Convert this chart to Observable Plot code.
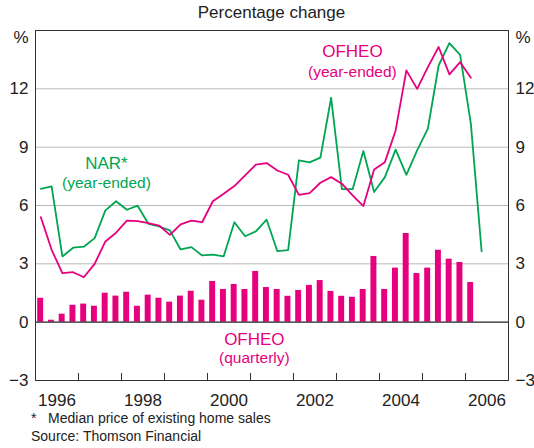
<!DOCTYPE html>
<html><head><meta charset="utf-8">
<script src="https://cdn.jsdelivr.net/npm/d3@7"></script>
<script src="https://cdn.jsdelivr.net/npm/@observablehq/plot@0.6"></script>
<style>
body{margin:0;background:#fff;font-family:"Liberation Sans",Arial,sans-serif;}
#wrap{position:relative;width:534px;height:448px;overflow:hidden;}
#wrap svg{position:absolute;left:0;top:0;}
.title{position:absolute;z-index:2;top:3px;left:0;width:543px;text-align:center;font-size:17px;color:#222;}
.note{position:absolute;z-index:2;left:31px;font-size:14px;color:#222;white-space:pre;}
</style></head><body>
<div id="wrap">
<div class="title">Percentage change</div>
<div class="note" style="top:410px">*   Median price of existing home sales</div>
<div class="note" style="top:428px">Source: Thomson Financial</div>
</div>
<script>
const quarters = [
 "1996 Q1","1996 Q2","1996 Q3","1996 Q4","1997 Q1","1997 Q2","1997 Q3","1997 Q4",
 "1998 Q1","1998 Q2","1998 Q3","1998 Q4","1999 Q1","1999 Q2","1999 Q3","1999 Q4",
 "2000 Q1","2000 Q2","2000 Q3","2000 Q4","2001 Q1","2001 Q2","2001 Q3","2001 Q4",
 "2002 Q1","2002 Q2","2002 Q3","2002 Q4","2003 Q1","2003 Q2","2003 Q3","2003 Q4",
 "2004 Q1","2004 Q2","2004 Q3","2004 Q4","2005 Q1","2005 Q2","2005 Q3","2005 Q4",
 "2006 Q1","2006 Q2"];
const narYearEnded = [6.86,6.98,3.38,3.83,3.88,4.32,5.75,6.22,5.78,5.99,5.06,4.92,4.72,3.74,3.86,3.43,
 3.47,3.38,5.14,4.42,4.67,5.27,3.65,3.70,8.32,8.22,8.46,11.54,6.84,6.84,8.80,6.69,
 7.46,8.87,7.58,8.83,9.95,13.20,14.35,13.75,10.20,3.64];
const ofheoYearEnded = [5.40,3.72,2.52,2.57,2.31,3.00,4.15,4.60,5.22,5.20,5.09,4.97,4.49,5.03,5.22,5.14,
 6.22,6.60,7.00,7.55,8.10,8.18,7.80,7.58,6.55,6.64,7.17,7.46,7.12,6.52,5.97,7.85,
 8.23,9.86,12.95,12.00,13.12,14.15,12.74,13.37,12.57];
const ofheoQuarterly = [1.23,0.10,0.41,0.87,0.93,0.82,1.49,1.34,1.54,0.82,1.39,1.23,1.03,1.34,1.59,1.13,
 2.09,1.68,1.94,1.68,2.61,1.78,1.68,1.33,1.63,1.89,2.14,1.58,1.33,1.28,1.68,3.38,
 1.68,2.78,4.56,2.50,2.78,3.70,3.24,3.07,2.04];
const yTicks = [-3,0,3,6,9,12];
const gridValues = [3,6,9,12];
const yearTicks = [1996,1997,1998,1999,2000,2001,2002,2003,2004,2005,2006,2007];
const yearLabels = [1996,1998,2000,2002,2004,2006];

const pink = "#e6007e", green = "#00a551";
const qStart = s => +s.slice(0,4) + (+s.slice(6) - 1) / 4;
const qMid = s => qStart(s) + 0.125;

const narData = narYearEnded.map((v,i) => ({t: qMid(quarters[i]), v}));
const ofheoData = ofheoYearEnded.map((v,i) => ({t: qMid(quarters[i]), v}));
const barData = ofheoQuarterly.map((v,i) => ({t0: qStart(quarters[i]), t1: qStart(quarters[i]) + 0.25, v}));

const chart = Plot.plot({
  width: 534, height: 448,
  marginTop: 30, marginBottom: 68, marginLeft: 35, marginRight: 26,
  style: {fontFamily: "Liberation Sans, Arial, sans-serif", fontSize: "17px", background: "transparent", color: "#222"},
  x: {domain: [1996, 2007], axis: null},
  y: {domain: [-3, 15], axis: null},
  marks: [
    Plot.ruleY(gridValues, {stroke: "#b8b8b8", strokeWidth: 1}),
    Plot.rectY(barData, {x1: "t0", x2: "t1", y: "v", fill: pink, insetLeft: 2.2, insetRight: 2.6}),
    Plot.ruleY([0], {stroke: "#222", strokeWidth: 1.2}),
    Plot.line(narData, {x: "t", y: "v", stroke: green, strokeWidth: 1.8}),
    Plot.line(ofheoData, {x: "t", y: "v", stroke: pink, strokeWidth: 1.8}),
    Plot.tickX(yearTicks, {x: d => d, insetTop: 343, stroke: "#333", strokeWidth: 1}),
    Plot.frame({stroke: "#333", strokeWidth: 1}),
    Plot.axisX(yearLabels.map(d => d + 0.5), {anchor: "bottom", tickSize: 0, tickPadding: 13, tickFormat: d => String(Math.floor(d)), fontSize: 17, label: null}),
    Plot.axisY(yTicks, {anchor: "left", tickSize: 0, tickPadding: 7, fontSize: 17, label: null}),
    Plot.axisY(yTicks, {anchor: "right", tickSize: 0, tickPadding: 7, fontSize: 17, label: null}),
    Plot.axisY([15], {anchor: "left", tickSize: 0, tickPadding: 7, fontSize: 17, tickFormat: () => "%", dy: 7, label: null}),
    Plot.axisY([15], {anchor: "right", tickSize: 0, tickPadding: 7, fontSize: 17, tickFormat: () => "%", dy: 7, label: null}),
    Plot.text(["NAR*"], {x: 1997.65, y: 8.16, text: d => d, fill: green, fontSize: 17}),
    Plot.text(["(year-ended)"], {x: 1997.65, y: 7.13, text: d => d, fill: green, fontSize: 15.5}),
    Plot.text(["OFHEO"], {x: 2003.37, y: 13.93, text: d => d, fill: pink, fontSize: 17}),
    Plot.text(["(year-ended)"], {x: 2003.37, y: 12.85, text: d => d, fill: pink, fontSize: 15.5}),
    Plot.text(["OFHEO"], {x: 2001.09, y: -0.89, text: d => d, fill: pink, fontSize: 17}),
    Plot.text(["(quarterly)"], {x: 2001.09, y: -1.87, text: d => d, fill: pink, fontSize: 15.5})
  ]
});
document.getElementById("wrap").appendChild(chart);
</script>
</body></html>
